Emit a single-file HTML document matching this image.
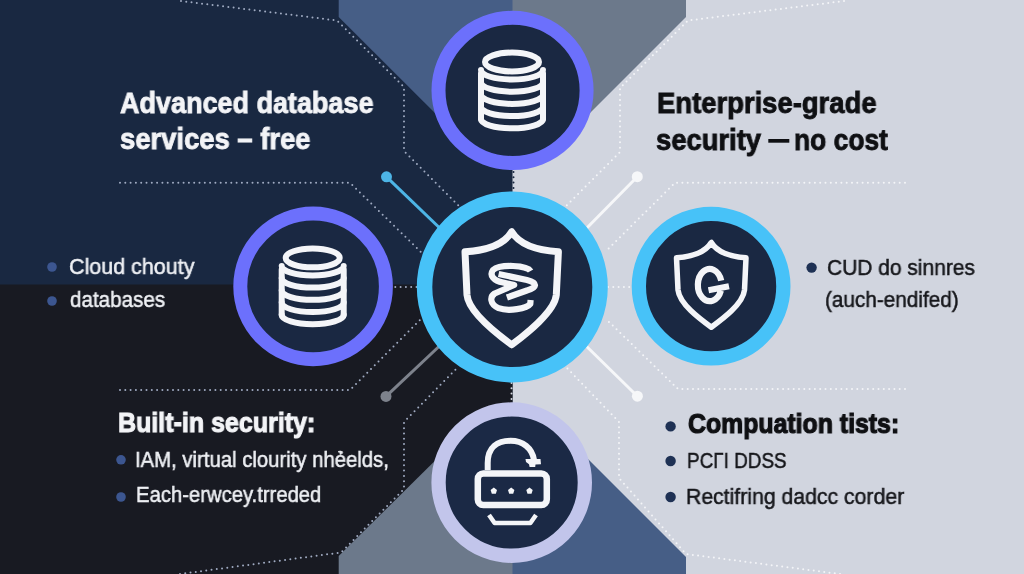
<!DOCTYPE html>
<html><head><meta charset="utf-8">
<style>
*{margin:0;padding:0;box-sizing:border-box}
html,body{width:1024px;height:574px;overflow:hidden;background:#d1d5df}
body{position:relative;font-family:"Liberation Sans",sans-serif}
svg{position:absolute;left:0;top:0}
.t{position:absolute;white-space:nowrap;line-height:1;transform-origin:0 0;will-change:transform}
</style></head>
<body>
<svg width="1024" height="574" viewBox="0 0 1024 574">
<rect x="0" y="0" width="1024" height="574" fill="#d1d5df"/>
<rect x="0" y="0" width="512.5" height="574" fill="#192841"/>
<rect x="0" y="284.5" width="512.5" height="290" fill="#181a22"/>
<polygon points="338.7,0 530,0 530,140 462,140 338.7,17" fill="#465e86"/>
<polygon points="512.5,0 686,0 686,17 563,140 512.5,140" fill="#6c798b"/>
<polygon points="338.7,574 530,574 530,434 462,434 338.7,556" fill="#6c798b"/>
<polygon points="512.5,574 686,574 686,557 563,434 512.5,434" fill="#465e86"/>
<g fill="none" stroke="#a0abc2" stroke-width="2" stroke-linecap="round" stroke-dasharray="0 5.3">
<path d="M181 1 L337 20.5 L404 87 L404 151 L460 207"/>
<path d="M120 182.8 L350 182.8 L422 253"/>
<path d="M120 390 L350 390 L420 320"/>
<path d="M390 287 L418 287"/>
<path d="M180 574 L341 552.5 L404 489 L404 422 L458 367"/>
<path d="M511.5 383 L511.5 403" stroke="#d1d5df"/>
</g>
<g fill="none" stroke="#f4f5f8" stroke-width="2" stroke-linecap="round" stroke-dasharray="0 5.3">
<path d="M844 1 L688 20.5 L620 88 L620 152 L565 207"/>
<path d="M905 182.8 L675 182.8 L605 252"/>
<path d="M905 389 L678 389 L607 320"/>
<path d="M608 287 L632 287"/>
<path d="M513.5 172 L513.5 190" stroke="#192841"/>
<path d="M840 574 L686 554 L619 478 L619 422 L566 367"/>
</g>
<line x1="386.5" y1="176.8" x2="448" y2="236" stroke="#4db5e6" stroke-width="3"/>
<circle cx="386.5" cy="176.8" r="5.5" fill="#4db5e6"/>
<line x1="386" y1="396.4" x2="448" y2="338" stroke="#7d828c" stroke-width="3"/>
<circle cx="386" cy="396.4" r="5.5" fill="#7d828c"/>
<line x1="637.3" y1="176.7" x2="578" y2="237" stroke="#f6f7f9" stroke-width="3"/>
<circle cx="637.3" cy="176.7" r="5.5" fill="#f6f7f9"/>
<line x1="637.4" y1="396.2" x2="578" y2="338" stroke="#f6f7f9" stroke-width="3"/>
<circle cx="637.4" cy="396.2" r="5.5" fill="#f6f7f9"/>
<ellipse cx="512.55" cy="90.4" rx="74.05" ry="72.6" fill="#1a2842" stroke="#6c70fc" stroke-width="14"/>
<circle cx="313.1" cy="286.4" r="72.8" fill="#1a2842" stroke="#6c70fc" stroke-width="14"/>
<circle cx="512.3" cy="287" r="87.75" fill="#1a2842" stroke="#47c2f8" stroke-width="15.5"/>
<circle cx="711.1" cy="286.2" r="72.25" fill="#1a2842" stroke="#47c2f8" stroke-width="14.3"/>
<circle cx="511.7" cy="482.6" r="73.15" fill="#1b2945" stroke="#c2c5eb" stroke-width="14.3"/>
<g fill="none" stroke="#f4f5f8" stroke-width="6" stroke-linecap="round"><ellipse cx="512" cy="62.0" rx="27" ry="9.4"/><path d="M481 73.6 L481 119.1 M543 73.6 L543 119.1"/><path d="M481 70.1 A31 9.4 0 0 0 543 70.1"/><path d="M481 82.3 A31 9.4 0 0 0 543 82.3"/><path d="M481 94.5 A31 9.4 0 0 0 543 94.5"/><path d="M481 106.7 A31 9.4 0 0 0 543 106.7"/><path d="M481 118.9 A31 9.4 0 0 0 543 118.9"/></g>
<g fill="none" stroke="#f4f5f8" stroke-width="6" stroke-linecap="round"><ellipse cx="312.7" cy="257.9" rx="27" ry="9.4"/><path d="M281.7 269.5 L281.7 315.0 M343.7 269.5 L343.7 315.0"/><path d="M281.7 266.0 A31 9.4 0 0 0 343.7 266.0"/><path d="M281.7 278.2 A31 9.4 0 0 0 343.7 278.2"/><path d="M281.7 290.4 A31 9.4 0 0 0 343.7 290.4"/><path d="M281.7 302.6 A31 9.4 0 0 0 343.7 302.6"/><path d="M281.7 314.8 A31 9.4 0 0 0 343.7 314.8"/></g>
<g fill="none" stroke="#f4f5f8" stroke-width="7" stroke-linejoin="round">
<path d="M511.7 231.8 Q501 249.5 465 251.8 L467 295 C468.5 312 497 334 511.7 344.8 C526 334 554.5 312 556.3 295 L558.4 251.8 Q522.4 249.5 511.7 231.8 Z"/>
</g>
<g fill="none" stroke="#f4f5f8" stroke-width="6.2" stroke-linecap="butt" stroke-linejoin="round">
<path d="M530.6 271 C527 265 500 264 493 270 C489 275.5 494 281 503 282.5 L514.2 285 L494.7 293.5 C489.9 296.5 489.4 304 498.6 308.2 C508.4 311.7 526.9 308.7 530.3 303.9 L530.6 300"/>
<path d="M498.6 274 L526.9 280 C538.6 282.9 536.7 288 526.9 290.5 L506.9 297.5"/>
</g>
<g fill="none" stroke="#f4f5f8" stroke-width="5.5" stroke-linejoin="round">
<path d="M711.3 242.5 Q703 256 676.5 257.8 L678 290 C679.5 304 700 319 711.3 327.2 C722.5 319 743 304 744.5 290 L746 257.8 Q719.6 256 711.3 242.5 Z"/>
<path d="M721.2 280.6 A11.9 16.1 0 1 0 720.9 290.7 M708.5 290.3 L729 286.2" stroke-width="6.2"/>
</g>
<g fill="none" stroke="#f4f5f8" stroke-width="5.5" stroke-linejoin="round">
<path d="M487.7 470 L487.7 463 C487.7 447 498 440.8 510.5 440.8 C523 440.8 532 448 534 460" stroke-width="6"/>
<rect x="477.8" y="473.4" width="69" height="31.6" rx="5.5" stroke-width="6.5"/>
<path d="M489 515 L494.6 523 L530.4 523 L536 515" stroke-width="4.5"/>
</g>
<polygon points="525.5,459 540.5,459 541,464.3 535.5,464.5 535.2,467 529.6,467 529,464.3 526,462" fill="#f4f5f8"/>
<g fill="#f4f5f8">
<polygon points="493.8,487.6 497.0,489.9 495.8,493.8 491.8,493.8 490.6,489.9"/>
<polygon points="511.2,487.6 514.4,489.9 513.2,493.8 509.2,493.8 508.0,489.9"/>
<polygon points="529.5,487.6 532.7,489.9 531.5,493.8 527.5,493.8 526.3,489.9"/>
</g>
<rect x="768.3" y="139" width="21" height="3.7" fill="#0f1013"/>
<g fill="#3c5690">
<circle cx="52" cy="267" r="4.8"/>
<circle cx="52" cy="301" r="4.8"/>
<circle cx="121" cy="459.8" r="4.8"/>
<circle cx="121" cy="497" r="4.8"/>
</g><g fill="#1e3154">
<circle cx="811.6" cy="267.6" r="5.2"/>
<circle cx="670.6" cy="426.4" r="5.2"/>
<circle cx="670.6" cy="461" r="5.2"/>
<circle cx="670.6" cy="497" r="5.2"/>
</g>
</svg>
<div class="t" style="left:119.75px;top:88.43px;font-weight:bold;font-size:29.5px;color:#f3f4f7;transform:scaleX(0.9148);-webkit-text-stroke:0.9px #f3f4f7">Advanced database</div>
<div class="t" style="left:119.82px;top:124.33px;font-weight:bold;font-size:29.5px;color:#f3f4f7;transform:scaleX(0.9292);-webkit-text-stroke:0.9px #f3f4f7">services – free</div>
<div class="t" style="left:656.52px;top:88.43px;font-weight:bold;font-size:29.5px;color:#0f1013;transform:scaleX(0.9298);-webkit-text-stroke:0.9px #0f1013">Enterprise-grade</div>
<div class="t" style="left:656.02px;top:124.53px;font-weight:bold;font-size:29.5px;color:#0f1013;transform:scaleX(0.9278);-webkit-text-stroke:0.9px #0f1013">security</div>
<div class="t" style="left:793.76px;top:124.53px;font-weight:bold;font-size:29.5px;color:#0f1013;transform:scaleX(0.8946);-webkit-text-stroke:0.9px #0f1013">no cost</div>
<div class="t" style="left:117.86px;top:409.00px;font-weight:bold;font-size:28px;color:#f3f4f7;transform:scaleX(0.8930);-webkit-text-stroke:1.1px #f3f4f7">Built-in security:</div>
<div class="t" style="left:687.71px;top:409.50px;font-weight:bold;font-size:28px;color:#0f1013;transform:scaleX(0.8872);-webkit-text-stroke:1.2px #0f1013">Compuation tists:</div>
<div class="t" style="left:69.27px;top:255.78px;font-weight:normal;font-size:22px;color:#eef0f4;transform:scaleX(0.9771);-webkit-text-stroke:0.5px #eef0f4">Cloud chouty</div>
<div class="t" style="left:70.25px;top:289.28px;font-weight:normal;font-size:22px;color:#eef0f4;transform:scaleX(0.9377);-webkit-text-stroke:0.5px #eef0f4">databases</div>
<div class="t" style="left:827.30px;top:256.68px;font-weight:normal;font-size:22px;color:#16171b;transform:scaleX(0.9528);-webkit-text-stroke:0.5px #16171b">CUD do sinnres</div>
<div class="t" style="left:825.31px;top:288.98px;font-weight:normal;font-size:22px;color:#16171b;transform:scaleX(0.9424);-webkit-text-stroke:0.5px #16171b">(auch-endifed)</div>
<div class="t" style="left:134.80px;top:448.98px;font-weight:normal;font-size:22px;color:#eef0f4;transform:scaleX(0.9228);-webkit-text-stroke:0.5px #eef0f4">IAM, virtual clourity nhẻelds,</div>
<div class="t" style="left:136.43px;top:483.68px;font-weight:normal;font-size:22px;color:#eef0f4;transform:scaleX(0.9206);-webkit-text-stroke:0.5px #eef0f4">Each-erwcey.trreded</div>
<div class="t" style="left:686.69px;top:449.98px;font-weight:normal;font-size:22px;color:#16171b;transform:scaleX(0.8587);-webkit-text-stroke:0.5px #16171b">PCΓI DDSS</div>
<div class="t" style="left:686.29px;top:485.58px;font-weight:normal;font-size:22px;color:#16171b;transform:scaleX(0.9645);-webkit-text-stroke:0.5px #16171b">Rectifring dadcc corder</div>
</body></html>
